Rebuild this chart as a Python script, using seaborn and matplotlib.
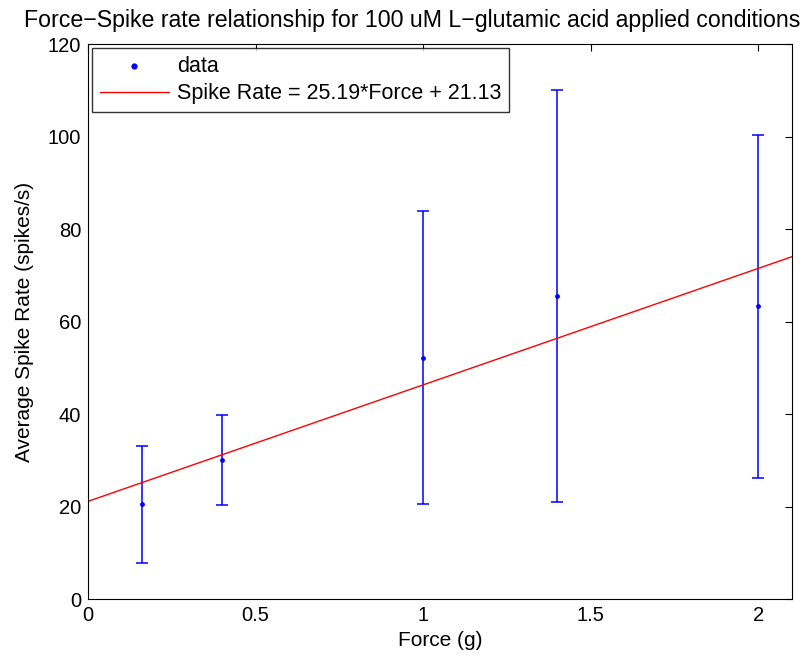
import matplotlib
matplotlib.use("Agg")
import matplotlib.pyplot as plt
import seaborn as sns
import numpy as np
import pandas as pd

# Data
force = [0.16, 0.4, 1.0, 1.4, 2.0]
spike_rate = [20.5, 30.1, 52.2, 65.6, 63.3]
err_upper = [33.0, 39.8, 83.9, 110.0, 100.3]
err_lower = [7.9, 20.3, 20.5, 21.0, 26.2]
slope = 25.19
intercept = 21.13
x_ticks = [0, 0.5, 1, 1.5, 2]
x_tick_labels = ['0', '0.5', '1', '1.5', '2']
y_ticks = [0, 20, 40, 60, 80, 100, 120]

sns.set_style("white")
plt.rcParams['font.family'] = ['Liberation Sans', 'DejaVu Sans']
plt.rcParams['text.color'] = 'black'
plt.rcParams['axes.labelcolor'] = 'black'

fig = plt.figure(figsize=(8.08, 6.59), dpi=100)
ax = fig.add_axes([0.109, 0.091, 0.871, 0.842])

df = pd.DataFrame({"Force": force, "Rate": spike_rate})
yerr = np.array([np.array(spike_rate) - np.array(err_lower),
                 np.array(err_upper) - np.array(spike_rate)])
ax.errorbar(force, spike_rate, yerr=yerr, fmt='none', ecolor='#0000ff',
            elinewidth=1.1, capsize=4.3, capthick=1.1, zorder=2)
sns.scatterplot(data=df, x="Force", y="Rate", ax=ax, color='#0000ff', s=12,
                edgecolor='#0000ff', linewidth=0, label='data', zorder=3)

xfit = np.array([0, 2.1])
fit_df = pd.DataFrame({"Force": xfit, "Rate": slope * xfit + intercept})
sns.lineplot(data=fit_df, x="Force", y="Rate", ax=ax, color='#ff0000', linewidth=1,
             label='Spike Rate = %.2f*Force + %.2f' % (slope, intercept), zorder=2)

ax.set_xlim(0, 2.1)
ax.set_ylim(0, 120)
ax.set_xticks(x_ticks)
ax.set_xticklabels(x_tick_labels)
ax.set_yticks(y_ticks)
ax.tick_params(direction='in', length=5, width=0.8, top=True, right=True,
               labelsize=14.5, colors='black')
ax.tick_params(axis='x', pad=5)
ax.tick_params(axis='y', pad=5)
for s in ax.spines.values():
    s.set_color('black')
    s.set_linewidth(0.8)
ax.set_xlabel('Force (g)', fontsize=15, labelpad=4, color='black')
ax.set_ylabel('Average Spike Rate (spikes/s)', fontsize=15, labelpad=10, color='black')
fig.text(412 / 808, 1 - 20 / 659,
         'Force\u2212Spike rate relationship for 100 uM L\u2212glutamic acid applied conditions',
         fontsize=16.7, ha='center', va='center', color='black')

leg = ax.legend(loc='upper left', fontsize=15.5, frameon=True, fancybox=False,
                edgecolor='black', borderaxespad=0.2, handlelength=3.2,
                handletextpad=0.4, borderpad=0.35, labelspacing=0.3,
                markerscale=1.3)
leg.get_frame().set_linewidth(1.0)
for t in leg.get_texts():
    t.set_color('black')

fig.savefig('out.png', dpi=100)
